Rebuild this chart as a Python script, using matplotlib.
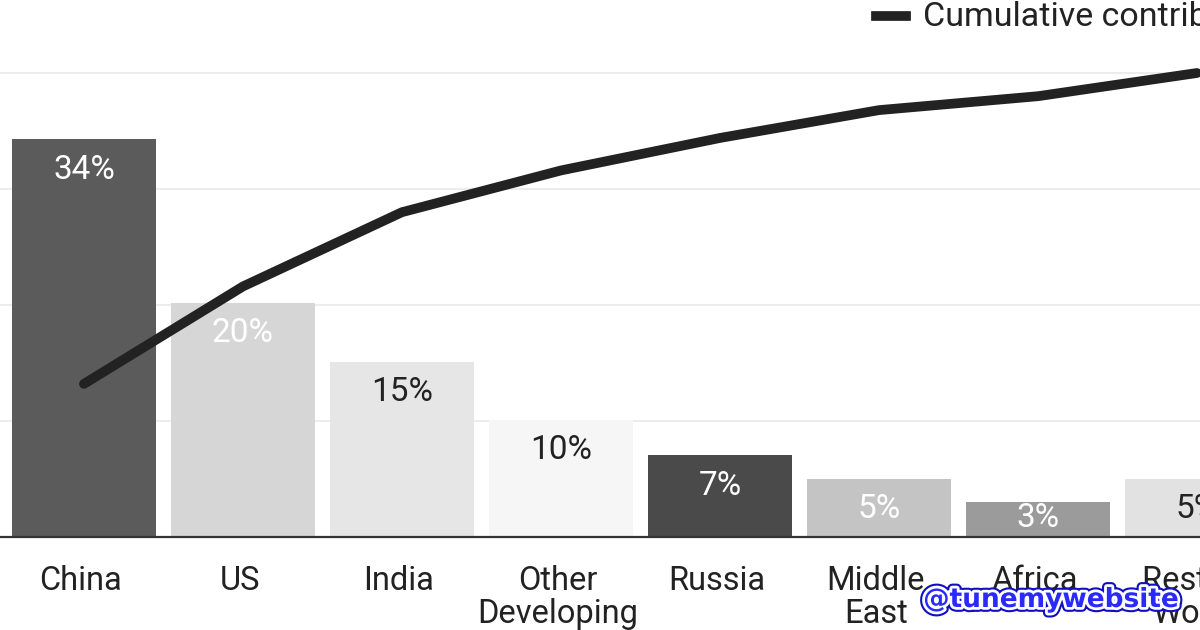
import numpy as np
import matplotlib.pyplot as plt
import matplotlib.transforms as mtransforms
from matplotlib.lines import Line2D
import matplotlib.patheffects as pe

# data
regions = ["China", "US", "India", "Other\nDeveloping", "Russia",
           "Middle\nEast", "Africa", "Rest of\nWorld"]
share = [34, 20, 15, 10, 7, 5, 3, 5]
cumulative = [33, 54, 70, 79, 86, 92, 95, 100]
bar_colors = ["#5b5b5b", "#d6d6d6", "#e6e6e6", "#f6f6f6",
              "#4a4a4a", "#c4c4c4", "#9b9b9b", "#e2e2e2"]
label_colors = ["white", "white", "#222222", "#222222",
                "white", "white", "white", "#222222"]

plt.rcParams['font.family'] = ['Roboto', 'DejaVu Sans']

fig = plt.figure(figsize=(12, 6.3), dpi=100)
ax = fig.add_axes([0, 93 / 630, 1, 537 / 630])
ax2 = ax.twinx()

x = np.arange(len(regions))

# gridlines live on the cumulative (0-100) axis
ax2.set_ylim(0, 537 / 4.64)
ax2.set_yticks([25, 50, 75, 100])
ax2.grid(axis='y', color='#ececec', lw=1.5)
ax2.tick_params(left=False, right=False, labelleft=False, labelright=False)
ax2.set_zorder(1)
ax.set_zorder(2)
ax.patch.set_visible(False)

ax.bar(x, share, width=0.906, color=bar_colors, zorder=2)
ax.set_xlim(-0.528, 7.019)
ax.set_ylim(0, 537 / 11.7)

for xi, v, c in zip(x, share, label_colors):
    ax.text(xi, max(v - 2.6, 1.6), f"{v}%", ha='center', va='center',
            fontsize=24, color=c, zorder=3)

# line on top of the bars
ax3 = ax.twinx()
ax3.set_ylim(ax2.get_ylim())
ax3.plot(x, cumulative, color='#222222', lw=7, solid_capstyle='round',
         solid_joinstyle='round', zorder=4)
ax3.axis('off')
ax3.set_zorder(3)

ax.set_xticks(x)
ax.set_xticklabels(regions, fontsize=23.5, color='#222222', linespacing=1.03)
ax.tick_params(axis='x', length=0, pad=20)
ax.tick_params(axis='y', left=False, labelleft=False)
shift = mtransforms.ScaledTranslation(-3 / 100, 0, fig.dpi_scale_trans)
for lbl in ax.get_xticklabels():
    lbl.set_transform(lbl.get_transform() + shift)
for s in ['top', 'left', 'right']:
    ax.spines[s].set_visible(False)
    ax2.spines[s].set_visible(False)
ax2.spines['bottom'].set_visible(False)
ax.spines['bottom'].set_color('#333333')
ax.spines['bottom'].set_linewidth(1.6)

# legend at the top
fig.add_artist(Line2D([876 / 1200, 906 / 1200], [1 - 16 / 630, 1 - 16 / 630],
                      color='#222222', lw=7, transform=fig.transFigure))
fig.text(923 / 1200, 1 - 17 / 630, "Cumulative contribution", fontsize=24.5,
         color='#222222', va='center', ha='left')

# watermark
fig.text(1051 / 1200, 1 - 600 / 630, "@tunemywebsite", fontsize=19,
         fontweight='bold', family='DejaVu Sans', color='#2a2aff',
         ha='center', va='center',
         path_effects=[pe.Stroke(linewidth=7, foreground='#1010c0'),
                       pe.Stroke(linewidth=4, foreground='white'),
                       pe.Normal()])

fig.savefig("out.png", dpi=100)
